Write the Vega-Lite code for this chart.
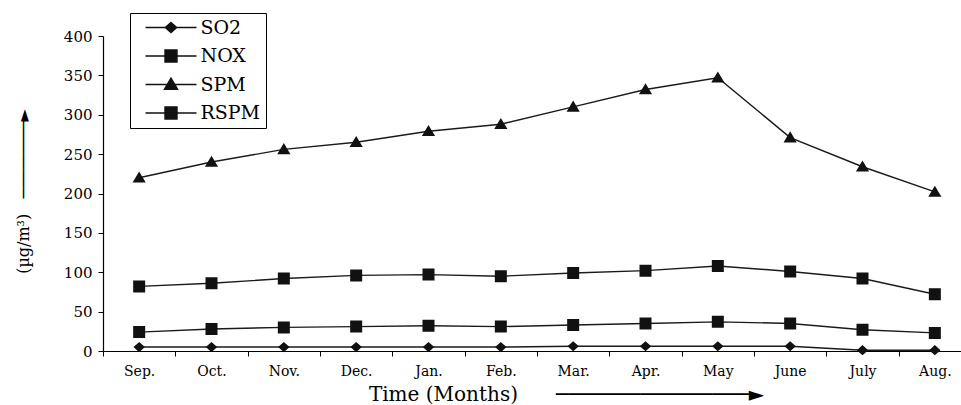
{
  "$schema": "https://vega.github.io/schema/vega-lite/v6.json",
  "width": 858,
  "height": 315,
  "autosize": "none",
  "padding": {"left": 103, "top": 36, "right": 0, "bottom": 54},
  "background": "white",
  "config": {"view": {"stroke": null}, "font": "DejaVu Serif"},
  "data": {"values": [
    {"month": "Sep.", "series": "SO2", "value": 5},
    {"month": "Oct.", "series": "SO2", "value": 5},
    {"month": "Nov.", "series": "SO2", "value": 5},
    {"month": "Dec.", "series": "SO2", "value": 5},
    {"month": "Jan.", "series": "SO2", "value": 5},
    {"month": "Feb.", "series": "SO2", "value": 5},
    {"month": "Mar.", "series": "SO2", "value": 6},
    {"month": "Apr.", "series": "SO2", "value": 6},
    {"month": "May", "series": "SO2", "value": 6},
    {"month": "June", "series": "SO2", "value": 6},
    {"month": "July", "series": "SO2", "value": 1},
    {"month": "Aug.", "series": "SO2", "value": 1},
    {"month": "Sep.", "series": "NOX", "value": 24},
    {"month": "Oct.", "series": "NOX", "value": 28},
    {"month": "Nov.", "series": "NOX", "value": 30},
    {"month": "Dec.", "series": "NOX", "value": 31},
    {"month": "Jan.", "series": "NOX", "value": 32},
    {"month": "Feb.", "series": "NOX", "value": 31},
    {"month": "Mar.", "series": "NOX", "value": 33},
    {"month": "Apr.", "series": "NOX", "value": 35},
    {"month": "May", "series": "NOX", "value": 37},
    {"month": "June", "series": "NOX", "value": 35},
    {"month": "July", "series": "NOX", "value": 27},
    {"month": "Aug.", "series": "NOX", "value": 23},
    {"month": "Sep.", "series": "SPM", "value": 220},
    {"month": "Oct.", "series": "SPM", "value": 240},
    {"month": "Nov.", "series": "SPM", "value": 256},
    {"month": "Dec.", "series": "SPM", "value": 265},
    {"month": "Jan.", "series": "SPM", "value": 279},
    {"month": "Feb.", "series": "SPM", "value": 288},
    {"month": "Mar.", "series": "SPM", "value": 310},
    {"month": "Apr.", "series": "SPM", "value": 332},
    {"month": "May", "series": "SPM", "value": 347},
    {"month": "June", "series": "SPM", "value": 271},
    {"month": "July", "series": "SPM", "value": 234},
    {"month": "Aug.", "series": "SPM", "value": 202},
    {"month": "Sep.", "series": "RSPM", "value": 82},
    {"month": "Oct.", "series": "RSPM", "value": 86},
    {"month": "Nov.", "series": "RSPM", "value": 92},
    {"month": "Dec.", "series": "RSPM", "value": 96},
    {"month": "Jan.", "series": "RSPM", "value": 97},
    {"month": "Feb.", "series": "RSPM", "value": 95},
    {"month": "Mar.", "series": "RSPM", "value": 99},
    {"month": "Apr.", "series": "RSPM", "value": 102},
    {"month": "May", "series": "RSPM", "value": 108},
    {"month": "June", "series": "RSPM", "value": 101},
    {"month": "July", "series": "RSPM", "value": 92},
    {"month": "Aug.", "series": "RSPM", "value": 72}
  ]},
  "encoding": {
    "x": {
      "field": "month", "type": "nominal",
      "sort": ["Sep.", "Oct.", "Nov.", "Dec.", "Jan.", "Feb.", "Mar.", "Apr.", "May", "June", "July", "Aug."],
      "scale": {"type": "band", "paddingInner": 0, "paddingOuter": 0, "range": [0, 868]},
      "axis": {
        "title": "Time (Months)\u00a0\u00a0\u00a0\u00a0\u00a0\u00a0\u2500\u2500\u2500\u2500\u2500\u2500\u2500\u2500\u2500\u2500\u2500\u2500\u2500\u2500\u2500\u2500\u25ba",
        "titleFont": "DejaVu Serif", "titleFontSize": 20, "titleFontWeight": "normal", "titleColor": "black",
        "titleX": 463, "titleY": 49, "titleBaseline": "alphabetic", "titleAlign": "center", "titleAnchor": null,
        "labelAngle": 0, "labelFontSize": 14, "labelColor": "black", "labelPadding": 8,
        "tickBand": "extent", "tickSize": 5, "tickColor": "black", "domainColor": "black", "domainWidth": 1.2,
        "grid": false
      }
    },
    "y": {
      "field": "value", "type": "quantitative",
      "scale": {"domain": [0, 400], "nice": false},
      "axis": {
        "title": "(\u00b5g/m\u00b3)\u00a0\u00a0\u00a0\u2500\u2500\u2500\u2500\u2500\u2500\u2500\u2500\u25ba",
        "titleFont": "DejaVu Serif", "titleFontSize": 16, "titleFontWeight": "normal", "titleColor": "black",
        "titleX": -80, "titleY": 155, "titleAngle": -90, "titleAlign": "center", "titleBaseline": "middle",
        "values": [0, 50, 100, 150, 200, 250, 300, 350, 400],
        "labelFontSize": 15, "labelColor": "black", "labelPadding": 6,
        "tickSize": 5, "tickColor": "black", "domainColor": "black", "domainWidth": 1.2,
        "grid": false
      }
    }
  },
  "layer": [
    {
      "mark": {"type": "line", "color": "#1a1a1a", "strokeWidth": 1.4},
      "encoding": {"detail": {"field": "series"}}
    },
    {
      "mark": {"type": "point", "filled": true, "color": "#111111", "opacity": 1, "size": 144},
      "encoding": {
        "shape": {
          "field": "series", "type": "nominal",
          "scale": {
            "domain": ["SO2", "NOX", "SPM", "RSPM"],
            "range": [
              "M-4.25,0H4.25M0,-0.85L0.95,0L0,0.85L-0.95,0Z",
              "M-4.25,0H4.25M-1,-1H1V1H-1Z",
              "M-4.25,0H4.25M0,-1.05L1.1,0.8H-1.1Z",
              "M-4.25,0H4.25M-1,-1H1V1H-1Z"
            ]
          },
          "legend": {
            "title": null, "orient": "none", "legendX": 27, "legendY": -23,
            "strokeColor": "black", "fillColor": "white", "padding": 5,
            "labelFont": "DejaVu Serif", "labelFontSize": 19, "labelColor": "black", "labelOffset": 20,
            "symbolOffset": 26.5,
            "rowPadding": 8.5, "symbolOpacity": 1, "symbolSize": 144,
            "symbolStrokeColor": "#111111", "symbolFillColor": "#111111", "symbolStrokeWidth": 1.4,
            "encoding": {
              "symbols": {
                "stroke": {"value": "#111111"},
                "strokeWidth": {"value": 1.4},
                "fill": {"value": "#111111"},
                "opacity": {"value": 1}
              }
            }
          }
        }
      }
    }
  ]
}
